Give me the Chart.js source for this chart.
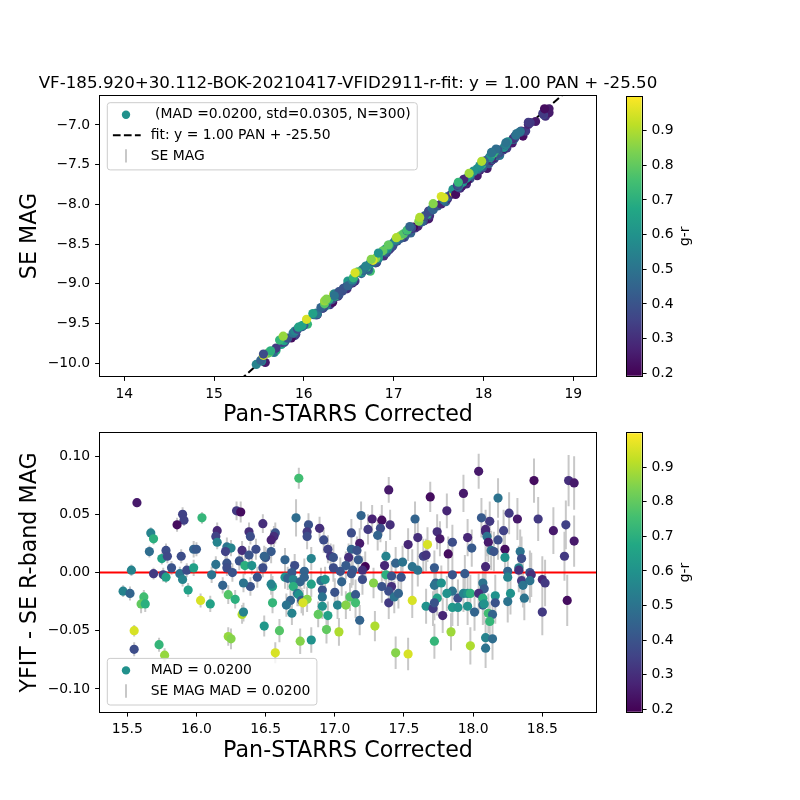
<!DOCTYPE html>
<html>
<head>
<meta charset="utf-8">
<script src="https://cdn.jsdelivr.net/npm/chart.js@4.4.1/dist/chart.umd.min.js"></script>
<style>
  html, body { margin: 0; padding: 0; background: #fff; }
  #wrap { position: relative; width: 800px; height: 800px; overflow: hidden; }
  canvas { position: absolute; }
</style>
</head>
<body>
<div id="wrap">
  <canvas id="topChart" width="800" height="440" style="left:0;top:0"></canvas>
  <canvas id="botChart" width="800" height="380" style="left:0;top:420px"></canvas>
  <canvas id="topBar" width="200" height="420" style="left:600px;top:0"></canvas>
  <canvas id="botBar" width="200" height="380" style="left:600px;top:420px"></canvas>
</div>
<script>
// Pan-STARRS corrected magnitudes (x of both panels)
const panMag = [
  15.57,15.90,15.91,15.86,16.04,16.29,16.32,16.15,15.67,15.69,
  15.66,15.78,15.75,15.79,15.89,15.98,16.00,16.14,16.15,16.22,
  16.25,16.21,16.33,16.38,16.39,16.48,15.53,15.69,15.76,15.78,
  15.82,15.88,15.90,15.93,15.98,16.11,16.14,16.22,16.22,16.26,
  16.31,16.35,16.40,16.38,16.43,16.50,16.48,16.44,15.47,15.52,
  15.62,15.60,15.63,15.94,16.03,16.10,16.19,16.23,16.28,16.33,
  16.34,16.39,16.34,16.49,15.55,15.55,15.73,15.77,16.23,16.25,
  16.74,17.39,16.72,16.81,16.80,16.80,16.89,16.92,16.57,16.56,
  16.54,16.54,16.49,16.64,16.71,16.69,16.78,16.83,16.95,16.97,
  16.99,16.99,17.04,17.12,17.12,17.10,17.18,17.16,17.19,17.24,
  17.27,17.34,17.33,17.31,17.40,17.08,17.13,17.17,17.22,17.20,
  17.12,17.05,17.20,17.28,17.37,17.36,17.37,17.41,17.34,17.41,
  17.39,17.39,17.43,17.46,17.44,17.49,17.48,17.53,17.58,17.60,
  17.56,17.60,17.64,17.66,17.67,17.56,17.66,17.69,16.64,16.66,
  16.70,16.75,16.78,16.83,16.90,16.93,16.91,16.91,17.00,16.70,
  16.73,16.74,16.76,16.68,16.65,16.80,16.77,16.69,16.55,16.54,
  16.55,16.91,16.88,16.95,17.02,17.08,17.11,17.15,17.15,17.18,
  17.29,16.94,17.03,16.83,16.75,16.60,16.57,17.44,17.53,
  18.04,18.44,18.69,18.73,17.93,18.18,17.81,18.26,18.32,18.47,
  18.06,18.12,18.67,18.58,18.09,18.09,18.22,17.74,17.76,17.96,
  17.85,18.10,18.11,18.18,17.99,18.23,18.13,18.15,18.73,18.34,
  18.66,17.82,18.23,18.35,18.09,18.33,18.33,18.25,17.72,17.94,
  17.85,18.41,18.42,18.50,18.52,18.25,18.35,18.36,18.41,17.73,
  17.72,17.77,18.07,18.08,17.85,17.81,17.74,17.89,17.93,17.96,
  17.98,18.04,18.07,18.16,18.16,18.27,18.25,18.37,17.71,17.72,
  17.85,17.89,17.96,18.07,18.08,17.78,18.01,18.11,18.14,18.12,
  18.50,18.68,17.84,17.72,17.98,18.09,18.14,18.09
];

// YFIT - SE R-band MAG
const fitResid = [
  0.060,0.050,0.045,0.041,0.047,0.053,0.052,0.036,0.034,0.029,
  0.018,0.019,0.012,0.014,0.014,0.020,0.020,0.031,0.026,0.022,
  0.021,0.018,0.019,0.035,0.031,0.042,0.002,-0.001,-0.002,-0.004,
  0.004,-0.001,-0.006,0.002,0.004,-0.002,0.007,0.008,0.004,0.000,
  0.010,0.006,0.006,0.015,0.020,0.013,0.004,-0.004,-0.016,-0.018,
  -0.021,-0.027,-0.027,-0.015,-0.024,-0.027,-0.011,-0.019,-0.023,-0.036,
  -0.034,-0.012,-0.009,-0.046,-0.050,-0.066,-0.062,-0.071,-0.055,-0.057,
  0.081,0.071,0.047,0.041,0.035,0.031,0.038,0.028,0.034,0.031,
  0.028,0.018,0.014,0.011,0.006,0.000,0.001,0.012,0.020,0.014,
  0.013,0.004,0.001,0.034,0.020,0.013,0.025,0.019,0.049,0.037,
  0.046,0.045,0.038,0.032,0.041,0.006,0.002,0.011,0.005,0.002,
  -0.001,-0.008,-0.006,-0.009,0.014,0.006,-0.002,-0.003,-0.012,-0.012,
  -0.026,-0.016,-0.021,-0.018,0.008,0.009,-0.004,0.024,0.046,0.030,
  0.005,0.002,0.014,0.015,0.024,-0.024,-0.029,0.065,-0.004,-0.005,
  -0.006,-0.008,-0.004,-0.010,-0.007,-0.006,-0.015,-0.021,-0.017,-0.012,
  -0.018,-0.019,-0.024,-0.024,-0.028,-0.023,-0.026,-0.035,-0.012,-0.010,
  -0.026,-0.029,-0.036,-0.037,-0.028,-0.028,-0.021,-0.019,-0.026,-0.041,
  -0.046,-0.049,-0.051,-0.058,-0.059,-0.050,-0.069,-0.069,-0.070,
  0.087,0.079,0.079,0.077,0.068,0.064,0.053,0.051,0.046,0.046,
  0.047,0.044,0.041,0.036,0.037,0.035,0.036,0.035,0.029,0.030,
  0.026,0.031,0.026,0.028,0.021,0.020,0.019,0.018,0.027,0.018,
  0.014,0.016,0.013,0.012,0.005,0.004,0.002,0.001,0.004,-0.001,
  -0.002,0.000,-0.002,-0.006,-0.009,-0.004,-0.007,-0.011,-0.007,-0.009,
  -0.011,-0.009,-0.009,-0.014,-0.016,-0.018,-0.022,-0.022,-0.018,-0.018,
  -0.018,-0.018,-0.022,-0.020,-0.026,-0.018,-0.025,-0.022,-0.031,-0.026,
  -0.030,-0.030,-0.029,-0.028,-0.027,-0.037,-0.034,-0.035,-0.036,-0.042,
  -0.034,-0.024,-0.051,-0.059,-0.063,-0.056,-0.057,-0.065
];

// g-r colour of each star
const gMinusR = [
  0.25,0.35,0.35,0.22,0.72,0.33,0.22,0.28,0.55,0.70,
  0.48,0.38,0.65,0.37,0.38,0.45,0.42,0.35,0.55,0.50,
  0.55,0.35,0.30,0.30,0.38,0.30,0.55,0.33,0.35,0.65,
  0.40,0.50,0.55,0.38,0.65,0.50,0.50,0.40,0.38,0.40,
  0.40,0.70,0.60,0.40,0.38,0.40,0.38,0.40,0.55,0.45,
  0.75,0.80,0.70,0.65,0.95,0.65,0.45,0.78,0.70,0.90,
  0.55,0.40,0.50,0.62,0.95,0.38,0.72,0.87,0.87,0.85,
  0.75,0.25,0.48,0.40,0.33,0.38,0.30,0.38,0.40,0.30,
  0.27,0.42,0.45,0.45,0.38,0.42,0.45,0.55,0.35,0.33,
  0.40,0.38,0.40,0.38,0.45,0.30,0.25,0.40,0.45,0.33,
  0.27,0.22,0.38,0.45,0.30,0.42,0.42,0.42,0.20,0.30,
  0.40,0.45,0.38,0.85,0.55,0.28,0.70,0.40,0.40,0.30,
  0.33,0.38,0.50,0.45,0.45,0.50,0.40,0.28,0.45,0.30,
  0.50,0.50,0.35,0.32,0.95,0.95,0.60,0.22,0.60,0.45,
  0.55,0.45,0.45,0.65,0.50,0.60,0.40,0.50,0.40,0.70,
  0.50,0.60,0.42,0.45,0.50,0.85,0.95,0.55,0.65,0.55,
  0.72,0.60,0.80,0.65,0.55,0.85,0.78,0.42,0.75,0.45,
  0.90,0.80,0.90,0.60,0.85,0.78,0.95,0.85,0.95,
  0.25,0.22,0.30,0.25,0.25,0.50,0.28,0.33,0.25,0.33,
  0.42,0.33,0.35,0.25,0.28,0.28,0.35,0.30,0.25,0.28,
  0.38,0.50,0.25,0.38,0.42,0.22,0.50,0.40,0.25,0.50,
  0.33,0.22,0.60,0.38,0.28,0.55,0.30,0.45,0.42,0.42,
  0.40,0.40,0.30,0.28,0.33,0.55,0.33,0.50,0.50,0.45,
  0.50,0.60,0.50,0.42,0.50,0.60,0.65,0.38,0.55,0.60,
  0.70,0.30,0.70,0.60,0.40,0.60,0.50,0.50,0.33,0.40,
  0.62,0.60,0.60,0.45,0.60,0.28,0.45,0.75,0.45,0.72,
  0.33,0.22,0.88,0.72,0.90,0.55,0.48,0.50
];

// SE MAG error (half length of the grey bars)
const seMagErr = [
  0.004,0.006,0.005,0.006,0.005,0.008,0.009,0.007,0.005,0.005,
  0.005,0.006,0.005,0.006,0.006,0.007,0.006,0.007,0.006,0.008,
  0.007,0.007,0.008,0.008,0.007,0.008,0.005,0.005,0.006,0.005,
  0.006,0.006,0.006,0.006,0.007,0.007,0.007,0.008,0.007,0.008,
  0.008,0.008,0.008,0.008,0.009,0.009,0.008,0.009,0.005,0.006,
  0.006,0.008,0.007,0.006,0.006,0.007,0.007,0.008,0.008,0.008,
  0.008,0.008,0.008,0.009,0.005,0.006,0.006,0.006,0.008,0.009,
  0.009,0.011,0.016,0.010,0.010,0.011,0.010,0.011,0.009,0.009,
  0.009,0.010,0.009,0.010,0.010,0.010,0.011,0.010,0.012,0.011,
  0.011,0.012,0.012,0.012,0.013,0.012,0.013,0.012,0.012,0.013,
  0.012,0.013,0.012,0.013,0.013,0.012,0.013,0.012,0.013,0.012,
  0.012,0.012,0.013,0.013,0.013,0.013,0.014,0.013,0.014,0.013,
  0.014,0.013,0.014,0.013,0.014,0.014,0.013,0.014,0.015,0.014,
  0.015,0.014,0.015,0.014,0.015,0.015,0.015,0.013,0.010,0.010,
  0.010,0.011,0.010,0.011,0.011,0.011,0.011,0.012,0.012,0.010,
  0.011,0.010,0.011,0.010,0.010,0.011,0.011,0.010,0.009,0.009,
  0.009,0.011,0.011,0.012,0.012,0.012,0.012,0.013,0.013,0.013,
  0.013,0.012,0.012,0.011,0.011,0.010,0.009,0.014,0.014,
  0.015,0.019,0.022,0.023,0.016,0.017,0.015,0.018,0.018,0.019,
  0.017,0.017,0.021,0.020,0.017,0.016,0.018,0.015,0.015,0.016,
  0.015,0.017,0.017,0.017,0.016,0.018,0.017,0.017,0.022,0.019,
  0.021,0.015,0.018,0.019,0.017,0.019,0.019,0.018,0.015,0.016,
  0.016,0.019,0.019,0.020,0.020,0.018,0.019,0.019,0.019,0.015,
  0.015,0.015,0.017,0.017,0.016,0.015,0.015,0.016,0.016,0.016,
  0.016,0.017,0.017,0.018,0.018,0.018,0.018,0.019,0.015,0.015,
  0.016,0.016,0.016,0.017,0.017,0.015,0.016,0.017,0.018,0.017,
  0.020,0.022,0.016,0.015,0.016,0.017,0.018,0.017
];

// fit and colour range
const fitSlope = 1.00;
const fitIntercept = -25.50;
const grRange = [0.193, 0.998];

// axis limits
const topXRange = [13.73, 19.253];
const topYRange = [-10.16, -6.635];
const botXRange = [15.303, 18.888];
const botYRange = [-0.1196, 0.1197];

const plotTitle = 'VF-185.920+30.112-BOK-20210417-VFID2911-r-fit: y = 1.00 PAN + -25.50';
const topLegendLabels = [' (MAD =0.0200, std=0.0305, N=300)', 'fit: y = 1.00 PAN + -25.50', 'SE MAG'];
const botLegendLabels = ['MAD = 0.0200', 'SE MAG MAD = 0.0200'];

Chart.defaults.font.family = '"DejaVu Sans", sans-serif';
Chart.defaults.color = '#000';
Chart.defaults.animation = false;

const viridisStops = ['#440154','#482475','#414487','#355f8d','#2a788e','#21918c',
                      '#22a884','#44bf70','#7ad151','#bddf26','#fde725'];
function hexRgb(h) { return [1, 3, 5].map(i => parseInt(h.slice(i, i + 2), 16)); }
function viridis(t) {
  t = Math.min(1, Math.max(0, t));
  const p = t * 10, i = Math.min(9, Math.floor(p)), f = p - i;
  const a = hexRgb(viridisStops[i]), b = hexRgb(viridisStops[i + 1]);
  const c = a.map((v, k) => Math.round(v + (b[k] - v) * f));
  return 'rgb(' + c.join(',') + ')';
}
function grColor(v) { return viridis((v - grRange[0]) / (grRange[1] - grRange[0])); }
const pointColors = gMinusR.map(grColor);

function fmt(v, d) {
  const s = (Math.abs(v) < 1e-9 ? 0 : v).toFixed(d);
  return s.replace('-', '\u2212');
}

function axis(range, step, digits, label, pad, size, horizontal) {
  return {
    type: 'linear', min: range[0], max: range[1],
    afterFit(s) { if (horizontal) s.height = size; else s.width = size; },
    ticks: {
      stepSize: step, includeBounds: false, autoSkip: false, maxRotation: 0,
      padding: 4.9, font: { size: 13.9 }, color: '#000',
      callback: v => fmt(v, digits)
    },
    grid: { display: true, drawOnChartArea: false, drawTicks: true, tickLength: 4.9, color: '#000', lineWidth: 1 },
    border: { display: false },
    title: { display: !!label, text: label, font: { size: 22.2 }, color: '#000', padding: pad }
  };
}

function drawFrame(chart) {
  const { ctx, chartArea: a } = chart;
  ctx.save();
  ctx.strokeStyle = '#000';
  ctx.lineWidth = 1;
  const l = Math.round(a.left) - 0.5, t = Math.round(a.top) - 0.5;
  ctx.strokeRect(l, t, Math.round(a.right) - Math.round(a.left) + 1, Math.round(a.bottom) - Math.round(a.top) + 1);
  ctx.restore();
}

// matplotlib-like legend box inside the axes
function drawLegend(chart, labels, handles, atBottom) {
  const { ctx, chartArea: a } = chart;
  ctx.save();
  ctx.font = '13.9px "DejaVu Sans"';
  const textW = Math.max(...labels.map(l => ctx.measureText(l).width));
  const left = a.left + 7.3;
  const w = 43.4 + textW + 6.5;
  const h = 26 + 20.6 * (labels.length - 1);
  const top = atBottom ? a.bottom - 6.7 - h : a.top + 6.7;
  ctx.beginPath();
  ctx.roundRect(left, top, w, h, 2.8);
  ctx.fillStyle = 'rgba(255,255,255,0.8)';
  ctx.fill();
  ctx.strokeStyle = '#cccccc';
  ctx.lineWidth = 1;
  ctx.stroke();
  labels.forEach((label, i) => {
    const cy = top + 12 + 20.6 * i;
    const hx = left + 18.7;
    if (handles[i] === 'dot') {
      ctx.beginPath();
      ctx.arc(hx, cy, 4.2, 0, Math.PI * 2);
      ctx.fillStyle = '#21918c';
      ctx.fill();
    } else if (handles[i] === 'dash') {
      ctx.beginPath();
      ctx.setLineDash([7.7, 3.3]);
      ctx.moveTo(left + 5.6, cy);
      ctx.lineTo(left + 33.4, cy);
      ctx.strokeStyle = '#000';
      ctx.lineWidth = 2;
      ctx.stroke();
      ctx.setLineDash([]);
    } else {
      ctx.beginPath();
      ctx.moveTo(hx, cy - 6.7);
      ctx.lineTo(hx, cy + 6.7);
      ctx.strokeStyle = '#c8c8c8';
      ctx.lineWidth = 2;
      ctx.stroke();
    }
    ctx.fillStyle = '#000';
    ctx.textAlign = 'left';
    ctx.textBaseline = 'middle';
    ctx.fillText(label, left + 43.4, cy);
  });
  ctx.restore();
}

// grey SE MAG error bars under the points
const errorBars = {
  id: 'errorBars',
  beforeDatasetsDraw(chart) {
    const { ctx, chartArea: a, scales: { x, y } } = chart;
    const pts = chart.data.datasets[0].data;
    ctx.save();
    ctx.beginPath();
    ctx.rect(a.left, a.top, a.right - a.left, a.bottom - a.top);
    ctx.clip();
    ctx.strokeStyle = '#c8c8c8';
    ctx.lineWidth = 2;
    ctx.beginPath();
    pts.forEach((p, i) => {
      const px = x.getPixelForValue(p.x);
      ctx.moveTo(px, y.getPixelForValue(p.y - seMagErr[i]));
      ctx.lineTo(px, y.getPixelForValue(p.y + seMagErr[i]));
    });
    ctx.stroke();
    ctx.restore();
  }
};

const scatterStyle = {
  backgroundColor: pointColors,
  pointRadius: 4.6,
  pointHoverRadius: 4.6,
  pointBorderWidth: 0,
  order: 1
};

// top panel: SE MAG against Pan-STARRS
const topPoints = panMag.map((x, i) => ({ x, y: fitSlope * x + fitIntercept - fitResid[i] }));
const fitLine = topXRange.map(x => ({ x, y: fitSlope * x + fitIntercept }));

new Chart(document.getElementById('topChart'), {
  type: 'scatter',
  data: {
    datasets: [
      Object.assign({ data: topPoints }, scatterStyle),
      {
        type: 'line', data: fitLine, showLine: true,
        borderColor: '#000', borderWidth: 2, borderDash: [7.7, 3.3],
        pointRadius: 0, fill: false, order: 2
      }
    ]
  },
  options: {
    responsive: false,
    events: [],
    layout: { padding: { left: 0, top: 96, right: 204, bottom: 0 } },
    plugins: { legend: { display: false }, tooltip: { enabled: false } },
    scales: {
      x: axis(topXRange, 1, 0, 'Pan-STARRS Corrected', { top: 0, bottom: 11.4 }, 64, true),
      y: axis(topYRange, 0.5, 1, 'SE MAG', { top: 16.7, bottom: 0 }, 100, false)
    }
  },
  plugins: [errorBars, {
    id: 'topDecor',
    afterDatasetsDraw(chart) {
      drawFrame(chart);
      drawLegend(chart, topLegendLabels, ['dot', 'dash', 'err'], false);
      const { ctx, chartArea: a } = chart;
      ctx.save();
      ctx.font = '16.7px "DejaVu Sans"';
      ctx.fillStyle = '#000';
      ctx.textAlign = 'center';
      ctx.textBaseline = 'alphabetic';
      ctx.fillText(plotTitle, (a.left + a.right) / 2, a.top - 8);
      ctx.restore();
    }
  }]
});

// bottom panel: residuals
const botPoints = panMag.map((x, i) => ({ x, y: fitResid[i] }));
const zeroLine = botXRange.map(x => ({ x, y: 0 }));

new Chart(document.getElementById('botChart'), {
  type: 'scatter',
  data: {
    datasets: [
      Object.assign({ data: botPoints }, scatterStyle),
      {
        type: 'line', data: zeroLine, showLine: true,
        borderColor: '#ff0000', borderWidth: 2,
        pointRadius: 0, fill: false, order: 2
      }
    ]
  },
  options: {
    responsive: false,
    events: [],
    layout: { padding: { left: 0, top: 12.7, right: 204, bottom: 0 } },
    plugins: { legend: { display: false }, tooltip: { enabled: false } },
    scales: {
      x: axis(botXRange, 0.5, 1, 'Pan-STARRS Corrected', { top: 0, bottom: 35.7 }, 88.3, true),
      y: axis(botYRange, 0.05, 2, 'YFIT - SE R-band MAG', { top: 16.7, bottom: 0 }, 100, false)
    }
  },
  plugins: [errorBars, {
    id: 'botDecor',
    afterDatasetsDraw(chart) {
      drawFrame(chart);
      drawLegend(chart, botLegendLabels, ['dot', 'err'], true);
    }
  }]
});

// colour bars
function colorBar(id, padTop, padBottom) {
  new Chart(document.getElementById(id), {
    type: 'bar',
    data: {
      labels: ['g-r'],
      datasets: [{
        data: [grRange],
        barPercentage: 1, categoryPercentage: 1, borderWidth: 0,
        backgroundColor(c) {
          const a = c.chart.chartArea;
          if (!a) return '#21918c';
          const g = c.chart.ctx.createLinearGradient(0, a.bottom, 0, a.top);
          viridisStops.forEach((s, i) => g.addColorStop(i / 10, s));
          return g;
        }
      }]
    },
    options: {
      responsive: false,
      events: [],
      layout: { padding: { left: 26.7, top: padTop, right: 0, bottom: padBottom } },
      plugins: { legend: { display: false }, tooltip: { enabled: false } },
      scales: {
        x: { display: false },
        y: Object.assign(axis(grRange, 0.1, 1, '', { top: 0, bottom: 0 }, 158.3, false), { position: 'right' })
      }
    },
    plugins: [{
      id: 'cbDecor',
      afterDatasetsDraw(chart) {
        drawFrame(chart);
        const { ctx, chartArea: a } = chart;
        ctx.save();
        ctx.font = '13.9px "DejaVu Sans"';
        ctx.fillStyle = '#000';
        ctx.translate(a.right + 43.3, (a.top + a.bottom) / 2);
        ctx.rotate(-Math.PI / 2);
        ctx.textAlign = 'center';
        ctx.textBaseline = 'middle';
        ctx.fillText('g-r', 0, 0);
        ctx.restore();
      }
    }]
  });
}
colorBar('topBar', 96.7, 44.3);
colorBar('botBar', 12.7, 88.3);
</script>
</body>
</html>
